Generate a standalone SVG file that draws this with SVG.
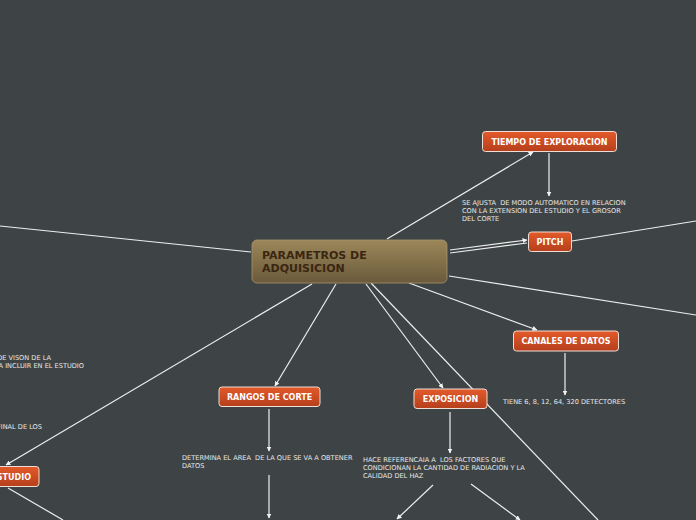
<svg xmlns="http://www.w3.org/2000/svg" width="696" height="520" viewBox="0 0 696 520">
<defs>
<linearGradient id="gMain" x1="0" y1="0" x2="0" y2="1">
<stop offset="0" stop-color="#9c8759"/>
<stop offset="1" stop-color="#6a5a3c"/>
</linearGradient>
<linearGradient id="gNode" x1="0" y1="0" x2="0" y2="1">
<stop offset="0" stop-color="#e35a2a"/>
<stop offset="1" stop-color="#b53f1c"/>
</linearGradient>
<marker id="ah" viewBox="0 0 10 10" refX="9" refY="5" markerWidth="5" markerHeight="5" orient="auto" markerUnits="userSpaceOnUse">
<path d="M0,0 L10,5 L0,10 z" fill="#f2f2f2"/>
</marker>
<style>
.c{stroke:#eeeeee;stroke-width:1.2;fill:none}
.a{marker-end:url(#ah)}
.n rect{fill:url(#gNode);stroke:#f0ddd5;stroke-width:1}
.n text{font-family:"DejaVu Sans",sans-serif;font-weight:bold;font-size:8px;fill:#ffffff;text-anchor:middle}
.t{font-family:"DejaVu Sans",sans-serif;font-size:6.6px;fill:#e8e8e8;white-space:pre}
.m{font-family:"DejaVu Sans",sans-serif;font-weight:bold;font-size:11px;fill:#3a2612}
</style>
</defs>
<rect width="696" height="520" fill="#3e4445"/>
<g id="connectors">
<line class="c" x1="0" y1="226" x2="251" y2="252"/>
<line class="c a" x1="387" y1="239" x2="533" y2="152"/>
<line class="c a" x1="549" y1="153" x2="549" y2="196"/>
<line class="c a" x1="450" y1="250" x2="527" y2="240"/>
<line class="c" x1="450" y1="253" x2="527" y2="243"/>
<line class="c" x1="572" y1="241" x2="696" y2="221"/>
<line class="c" x1="449" y1="276" x2="696" y2="315"/>
<line class="c a" x1="409" y1="283" x2="537" y2="330"/>
<line class="c a" x1="565" y1="353" x2="565" y2="395"/>
<line class="c a" x1="366" y1="284" x2="443" y2="388"/>
<line class="c" x1="371" y1="283" x2="598" y2="520"/>
<line class="c a" x1="336" y1="284" x2="275" y2="386"/>
<line class="c a" x1="269" y1="409" x2="269" y2="451"/>
<line class="c a" x1="269" y1="475" x2="269" y2="518"/>
<line class="c a" x1="312" y1="284" x2="6" y2="465"/>
<line class="c" x1="8" y1="488" x2="63" y2="520"/>
<line class="c a" x1="450" y1="412" x2="450" y2="453"/>
<line class="c a" x1="433" y1="485" x2="397" y2="519"/>
<line class="c a" x1="471" y1="484" x2="520" y2="520"/>
</g>
<g id="main">
<rect x="252" y="240" width="195" height="43" rx="5" fill="url(#gMain)" stroke="#a8946a" stroke-width="0.8"/>
<text class="m" x="262" y="259">PARAMETROS DE</text>
<text class="m" x="262" y="272">ADQUISICION</text>
</g>
<g id="tiempo" class="n">
<rect x="482.5" y="131.5" width="134" height="20" rx="3"/>
<text x="549.5" y="144.5">TIEMPO DE EXPLORACION</text>
</g>
<g id="tiempo-txt">
<text class="t" x="462" y="205">SE AJUSTA  DE MODO AUTOMATICO EN RELACION</text>
<text class="t" x="462" y="213">CON LA EXTENSION DEL ESTUDIO Y EL GROSOR</text>
<text class="t" x="462" y="221">DEL CORTE</text>
</g>
<g id="pitch" class="n">
<rect x="528.5" y="232" width="43" height="19.5" rx="3"/>
<text x="550" y="245">PITCH</text>
</g>
<g id="canales" class="n">
<rect x="513.5" y="331" width="105" height="20" rx="3"/>
<text x="566" y="344">CANALES DE DATOS</text>
</g>
<g id="canales-txt">
<text class="t" x="503" y="404">TIENE 6, 8, 12, 64, 320 DETECTORES</text>
</g>
<g id="exposicion" class="n">
<rect x="414" y="389" width="73" height="19.5" rx="3"/>
<text x="450.5" y="402">EXPOSICION</text>
</g>
<g id="exposicion-txt">
<text class="t" x="363" y="462">HACE REFERENCAIA A  LOS FACTORES QUE</text>
<text class="t" x="363" y="470">CONDICIONAN LA CANTIDAD DE RADIACION Y LA</text>
<text class="t" x="363" y="478">CALIDAD DEL HAZ</text>
</g>
<g id="rangos" class="n">
<rect x="219" y="387" width="101" height="19.5" rx="3"/>
<text x="269.5" y="400">RANGOS DE CORTE</text>
</g>
<g id="rangos-txt">
<text class="t" x="182" y="460">DETERMINA EL AREA  DE LA QUE SE VA A OBTENER</text>
<text class="t" x="182" y="468">DATOS</text>
</g>
<g id="estudio" class="n">
<rect x="-40" y="466.5" width="79" height="20" rx="3"/>
<text x="31" y="480" style="text-anchor:end">ESTUDIO</text>
</g>
<g id="left-txt">
<text class="t" x="51" y="360" style="text-anchor:end">DE VISON DE LA</text>
<text class="t" x="84" y="368" style="text-anchor:end">A INCLUIR EN EL ESTUDIO</text>
<text class="t" x="42" y="429" style="text-anchor:end">FINAL DE LOS</text>
</g>
</svg>
